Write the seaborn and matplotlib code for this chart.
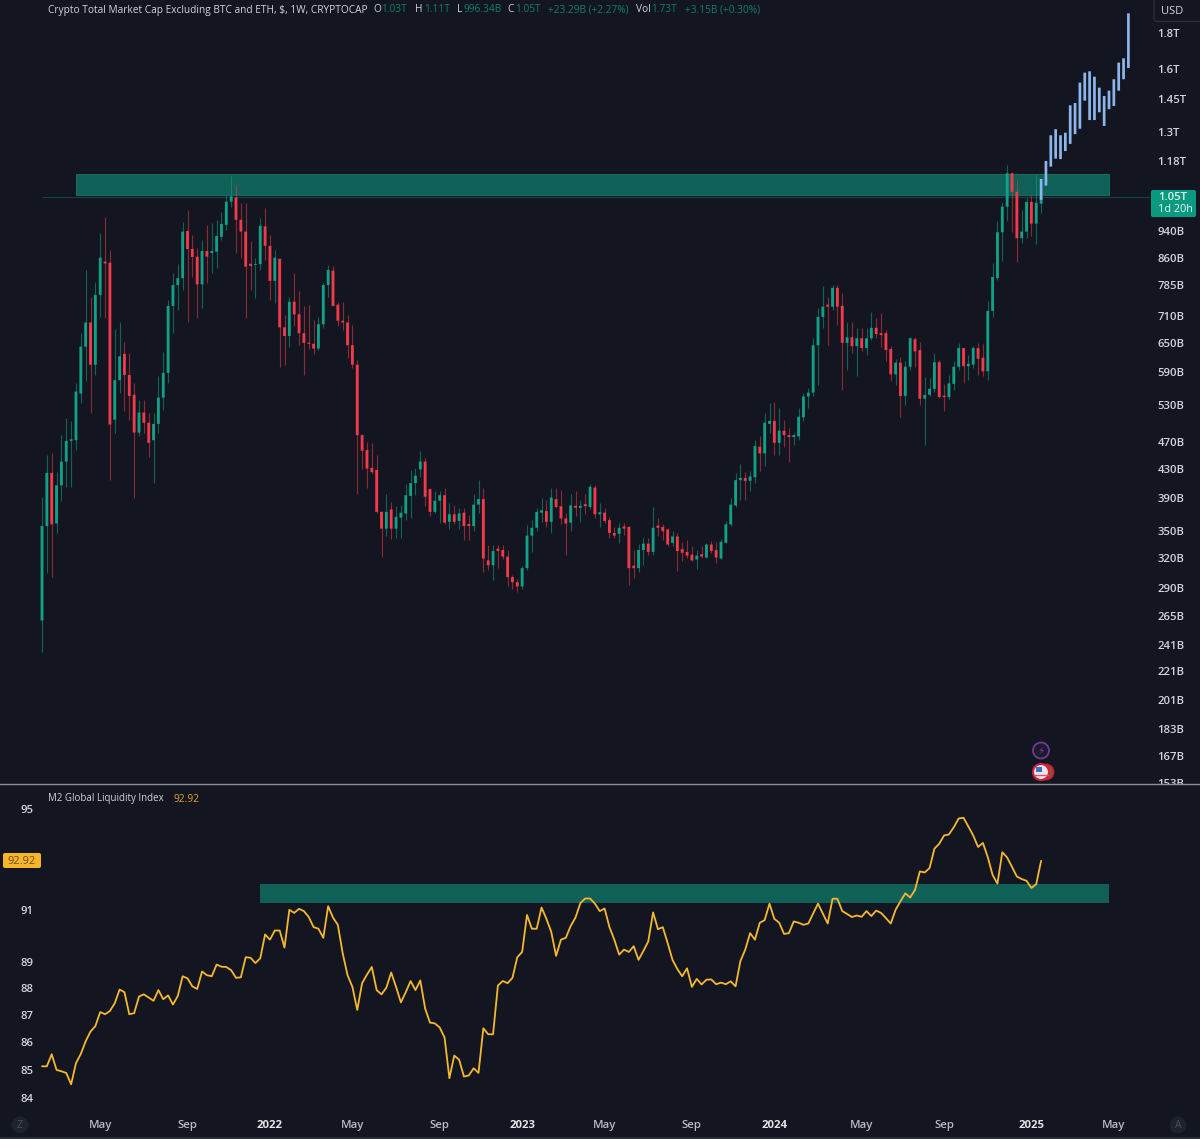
import matplotlib
matplotlib.use("Agg")
import matplotlib.pyplot as plt
import matplotlib.dates as mdates
from matplotlib.patches import Circle, FancyBboxPatch, Rectangle
from matplotlib.ticker import NullLocator
import numpy as np
import pandas as pd
import seaborn as sns

# Weekly candles, USD billions
opens = [261,356,424,359,407,440,471,472,550,642,695,605,761,849,846,505,575,627,585,548,
         484,517,500,472,498,543,589,734,786,804,939,885,863,788,879,873,877,921,958,1034,
         1048,974,937,843,840,842,953,894,797,857,684,665,744,714,671,650,648,638,691,786,
         824,737,699,695,645,605,480,457,431,428,373,353,376,353,366,371,393,410,429,440,
         402,373,387,394,361,370,362,372,357,356,382,389,318,313,329,329,322,301,296,292,
         310,345,354,372,374,361,389,380,365,360,380,378,381,379,404,370,372,363,348,347,
         355,355,311,310,329,336,327,355,355,352,337,344,330,327,324,319,323,321,335,329,
         320,337,358,381,414,417,413,418,462,452,498,503,468,487,480,477,478,509,545,552,
         645,708,737,732,779,734,650,662,643,660,639,660,683,671,671,637,586,609,546,601,
         658,635,541,548,559,610,546,544,568,601,639,602,605,639,619,592,722,804,935,1017,
         1135,1068,917,937,1033,962,1027]
highs = [392,450,453,425,480,507,502,570,671,826,757,795,933,984,882,680,697,652,629,570,
         539,539,517,517,582,631,749,818,843,968,1006,927,888,912,958,964,974,1000,1058,1126,
         1092,1030,1030,909,860,980,1013,927,882,860,712,757,818,770,733,737,701,707,791,840,
         836,744,744,712,689,615,482,470,468,450,374,395,385,380,382,409,428,431,455,445,
         404,399,399,403,384,382,378,378,369,395,414,403,334,335,334,334,329,303,299,312,
         357,363,378,391,388,403,404,401,372,395,399,388,395,409,408,384,378,367,355,360,
         360,356,329,336,342,342,379,366,358,354,350,348,338,340,333,329,333,337,339,338,
         341,362,391,424,436,425,427,473,478,517,534,535,525,505,491,484,524,552,561,660,
         729,784,757,786,786,767,697,697,683,683,683,720,705,718,678,644,617,621,612,663,
         663,652,581,580,629,615,567,585,612,650,642,625,644,650,647,747,846,969,1033,1168,
         1140,1110,1006,1047,1058,1133,1110]
lows = [235,305,301,348,386,405,405,457,534,573,517,585,708,705,414,484,552,519,505,391,
        478,484,447,410,484,522,570,671,724,774,697,807,705,729,791,818,832,912,942,1017,
        874,860,705,774,754,826,854,749,742,601,605,642,686,645,584,638,627,635,682,757,
        733,686,678,619,599,395,430,404,423,371,322,345,341,342,342,363,365,394,418,380,
        368,372,360,358,352,358,352,340,340,350,372,306,308,298,310,319,292,289,287,289,
        308,327,350,361,355,348,378,358,324,350,368,361,370,376,366,355,360,342,342,337,
        346,293,300,306,313,324,324,345,340,333,333,307,317,321,317,309,321,320,326,315,
        319,337,356,379,388,388,399,410,426,434,483,449,449,462,440,465,473,502,525,545,
        566,683,645,724,689,557,595,629,582,632,625,656,660,642,612,573,566,510,530,595,
        601,530,465,545,554,543,519,541,556,595,569,575,599,585,582,576,707,799,850,969,
        935,848,902,917,925,899,996]
closes = [356,424,358,407,440,471,473,554,642,695,605,761,860,844,497,575,622,585,546,484,
          517,500,468,498,543,589,734,786,804,937,885,862,788,879,863,879,924,961,1034,1052,
          974,937,835,837,842,955,894,797,860,684,665,744,714,671,650,648,638,691,786,826,
          734,699,695,645,605,480,456,430,425,373,353,373,353,367,372,394,410,420,440,392,
          373,387,394,360,370,361,371,356,356,382,389,320,313,328,328,322,301,296,292,310,
          345,354,373,375,361,391,379,365,359,381,378,380,380,405,370,372,362,348,345,354,
          353,310,310,329,336,327,354,354,350,335,344,328,326,323,318,323,322,335,328,321,
          338,358,382,414,417,413,419,463,452,500,503,468,487,480,477,480,510,545,552,645,
          708,732,732,779,732,650,662,643,660,639,660,683,669,667,635,586,609,546,601,660,
          632,541,548,559,610,544,544,569,601,639,602,607,639,617,592,722,807,935,1017,1135,
          1068,917,937,1033,962,1030,1050]

# Projected path, USD billions
blue_highs = [1114,1182,1286,1312,1286,1297,1419,1430,1529,1580,1587,1559,1504,1463,1489,1546,1633,1656,1920]
blue_lows = [1040,1090,1160,1191,1189,1221,1250,1291,1314,1441,1352,1352,1387,1326,1401,1416,1489,1546,1604]

# M2 Global Liquidity Index
m2 = [85.13,85.13,85.57,85.0,84.95,84.89,84.48,85.24,85.58,86.04,86.4,86.6,87.12,87.04,87.16,87.45,87.96,87.86,87.04,87.08,
      87.7,87.78,87.66,87.54,87.94,87.6,87.74,87.4,87.72,88.46,88.38,88.08,87.98,88.64,88.5,88.46,88.9,88.82,88.81,88.69,
      88.4,88.42,89.18,89.16,88.96,89.14,90.05,89.85,90.2,90.2,89.55,91.0,90.88,91.04,90.95,90.72,90.33,90.27,89.92,91.14,
      90.7,90.42,89.33,88.5,88.06,87.2,88.2,88.52,88.81,87.94,87.78,88.03,88.6,88.06,87.48,87.86,88.28,87.94,88.3,87.25,
      86.73,86.7,86.55,86.18,84.7,85.52,85.37,84.76,84.8,85.06,84.89,86.52,86.3,86.3,88.11,88.28,88.2,88.4,89.18,89.38,
      90.8,90.27,90.27,91.09,90.65,90.15,89.23,89.85,89.92,90.37,90.7,91.26,91.44,91.44,91.24,90.95,
      91.05,90.33,89.85,89.28,89.47,89.38,89.6,89.08,89.42,89.78,90.9,90.25,90.33,89.72,89.08,88.73,88.46,88.76,88.06,88.36,
      88.15,88.33,88.34,88.16,88.22,88.16,88.27,88.08,89.03,89.47,90.1,89.85,90.5,90.6,91.24,90.65,90.5,90.07,90.1,90.55,
      90.5,90.42,90.47,90.85,91.24,90.85,90.47,91.43,91.43,90.95,90.84,90.72,90.78,90.73,90.95,90.76,90.97,90.88,90.68,90.47,
      91.0,91.33,91.64,91.48,91.77,92.5,92.46,92.63,93.4,93.6,93.93,93.97,94.26,94.61,94.64,94.29,93.93,93.47,93.63,93.07,
      92.36,92.02,93.26,93.05,92.68,92.3,92.2,92.13,91.85,92.0,92.92]

price_ticks = [1800,1600,1450,1300,1180,940,860,785,710,650,590,530,470,430,390,350,320,290,265,241,221,201,183,167,153]
price_labels = ["1.8T","1.6T","1.45T","1.3T","1.18T","940B","860B","785B","710B","650B","590B","530B","470B","430B","390B","350B","320B","290B","265B","241B","221B","201B","183B","167B","153B"]
m2_ticks = [84,85,86,87,88,89,91,95]
time_ticks = ["2021-05-03","2021-09-06","2022-01-03","2022-05-02","2022-09-05","2023-01-02","2023-05-01","2023-09-04","2024-01-01","2024-05-06","2024-09-02","2025-01-06","2025-05-05"]
time_labels = ["May","Sep","2022","May","Sep","2023","May","Sep","2024","May","Sep","2025","May"]

zone_price = (1056, 1133)
zone_price_dates = ("2021-03-29", "2025-04-28")
zone_m2 = (91.27, 91.99)
zone_m2_dates = ("2021-12-20", "2025-04-28")

BG = "#131620"
UP, DOWN = "#12a186", "#f23a4b"
TXT = "#d1d4dc"
ZONE = "#0f6056"

sns.set_theme(style="dark", rc={"axes.facecolor": BG, "figure.facecolor": BG, "axes.grid": False})
plt.rcParams["font.family"] = ["Open Sans", "DejaVu Sans"]

W, H = 1200, 1139
fig = plt.figure(figsize=(W / 100, H / 100), dpi=100)
ax = fig.add_axes([0, 1 - 783 / H, 1150 / W, 783 / H])
low = fig.add_axes([36 / W, 1 - 1110 / H, (W - 36) / W, 325 / H])
over = fig.add_axes([0, 0, 1, 1], zorder=10)
over.set_xlim(0, W); over.set_ylim(H, 0); over.axis("off"); over.patch.set_alpha(0)

dates = pd.date_range("2021-02-08", periods=len(closes), freq="7D")
df = pd.DataFrame({"date": dates, "open": opens, "high": highs, "low": lows, "close": closes})
df["up"] = df["close"] >= df["open"]
df["color"] = np.where(df["up"], UP, DOWN)
blue_dates = pd.date_range(dates[-1], periods=len(blue_highs), freq="7D")

k = 4.85 / 7
d0 = mdates.date2num(dates[0])

for a, pleft, pright in ((ax, 0, 1150), (low, 36, 1200)):
    a.set_xlim(d0 + (pleft - 42) / k, d0 + (pright - 42) / k)
    for s in a.spines.values():
        s.set_visible(False)

# Main pane
ax.set_yscale("log")
ax.set_ylim(153.0, 2006)
ax.fill_between(pd.to_datetime(list(zone_price_dates)), *zone_price, color=ZONE, lw=0.6, ec="#177565", zorder=1)
ax.hlines(1050, dates[0], mdates.num2date(d0 + 1108 / k), color="#0e5f54", lw=0.6, alpha=0.8, zorder=0.8)
ax.vlines(df["date"], df["low"], df["high"], colors=df["color"], lw=0.8, alpha=0.55, zorder=2)
bodies = ax.bar(df["date"], (df["close"] - df["open"]).abs().clip(lower=2.5), bottom=df[["open", "close"]].min(axis=1),
                width=4.1, color=df["color"], lw=0, zorder=3)
blues = ax.bar(blue_dates, np.array(blue_highs) - np.array(blue_lows), bottom=blue_lows, width=3.9, color="#8db6ec", lw=0, zorder=4)
for p in list(bodies) + list(blues):
    p.set_snap(False)
ax.yaxis.tick_right()
ax.yaxis.set_minor_locator(NullLocator())
ax.set_yticks(price_ticks, price_labels, fontsize=8.2, color=TXT, fontweight="semibold")
ax.tick_params(axis="y", length=0, pad=5.5, which="both")
ax.tick_params(axis="x", length=0, labelbottom=False)
ax.xaxis_date()

# M2 pane
low.set_yscale("log")
low.set_ylim(83.56, 95.97)
low.fill_between(pd.to_datetime(list(zone_m2_dates)), *zone_m2, color=ZONE, lw=0, zorder=1)
m2_df = pd.DataFrame({"date": pd.date_range("2021-02-08", periods=len(m2), freq="7D"), "m2": m2})
sns.lineplot(data=m2_df, x="date", y="m2", ax=low, color="#f5b82e", lw=1.3, zorder=3)
low.set_xlabel(""); low.set_ylabel("")
low.yaxis.set_minor_locator(NullLocator())
low.set_yticks(m2_ticks, [str(t) for t in m2_ticks], fontsize=8.2, color=TXT, fontweight="semibold")
low.tick_params(axis="y", length=0, pad=1.5, which="both")
low.set_xticks(pd.to_datetime(time_ticks), time_labels, fontsize=8.2, color="#b8bbc4", fontweight="semibold")
low.tick_params(axis="x", length=0, pad=7)
for lbl, s in zip(low.get_xticklabels(), time_labels):
    if s.isdigit():
        lbl.set_fontweight("bold"); lbl.set_color("#e2e4ea")
low.xaxis.set_minor_locator(NullLocator())

# Pane chrome
over.plot([0, W], [784, 784], color="#8b8e97", lw=1.0)
over.add_patch(Rectangle((0, 1137), W, 2, color="#2a2e39", lw=0))
over.add_patch(FancyBboxPatch((1154, -6), 60, 27.5, boxstyle="round,pad=0,rounding_size=4", fc="none", ec="#2a2e39", lw=1))
over.text(1161, 11, "USD", fontsize=8, color=TXT, va="center")

hdr = [(48, "Crypto Total Market Cap Excluding BTC and ETH, $, 1W, CRYPTOCAP", TXT),
       (373, "O", TXT), (381, "1.03T", "#0f7e6c"), (415, "H", TXT), (424, "1.11T", "#0f7e6c"),
       (457, "L", TXT), (463, "996.34B", "#0f7e6c"), (507, "C", TXT), (515, "1.05T", "#0f7e6c"),
       (548, "+23.29B (+2.27%)", "#0f7e6c"), (636, "Vol", TXT), (651, "1.73T", "#0f7e6c"),
       (685, "+3.15B (+0.30%)", "#0f7e6c")]
for x, s, c in hdr:
    over.text(x, 10, s, fontsize=7.25, color=c, va="center", ha="left", fontweight="medium")

over.text(48, 799, "M2 Global Liquidity Index", fontsize=7.0, color=TXT, va="center", fontweight="medium")
over.text(174, 799, "92.92", fontsize=7.4, color="#e0a528", va="center")

# Last value tags
over.add_patch(FancyBboxPatch((1151, 190), 45, 27, boxstyle="round,pad=0,rounding_size=2", fc="#0a9a80", ec="none"))
over.text(1158, 197, "1.05T", fontsize=8.2, color="#e6f4f1", va="center", fontweight="semibold")
over.text(1158, 210, "1d 20h", fontsize=7.8, color="#e6f4f1", va="center")
over.add_patch(FancyBboxPatch((3, 853), 38, 15, boxstyle="round,pad=0,rounding_size=2", fc="#f7b52b", ec="none"))
over.text(8, 861, "92.92", fontsize=8.0, color="#6d4c12", va="center")

# Event icons
over.add_patch(Circle((1041, 750.5), 8, fc="#1c1a2b", ec="#6f3a96", lw=1.3))
over.text(1041, 751, "\u26a1", fontsize=7.5, color="#7e3fa8", ha="center", va="center", family="DejaVu Sans")
over.add_patch(Circle((1046, 772), 7.5, fc="#8a5a20", ec="#c2203f", lw=1.3))
over.add_patch(Circle((1041, 772), 8, fc="#e8e8ee", ec="#d81e3c", lw=1.5))
over.add_patch(Rectangle((1035.5, 767), 6, 5, color="#3b6fc4", lw=0))
over.plot([1034, 1048], [775, 775], color="#d9566a", lw=1)

# Scale buttons
for x, s in ((20, "Z"), (1178, "A")):
    over.add_patch(Circle((x, 1125), 8.5, fc="#1e222d", ec="none"))
    over.text(x, 1125, s, fontsize=7.5, color="#4c505b", ha="center", va="center")

fig.savefig("out.png", dpi=100, facecolor=BG)
